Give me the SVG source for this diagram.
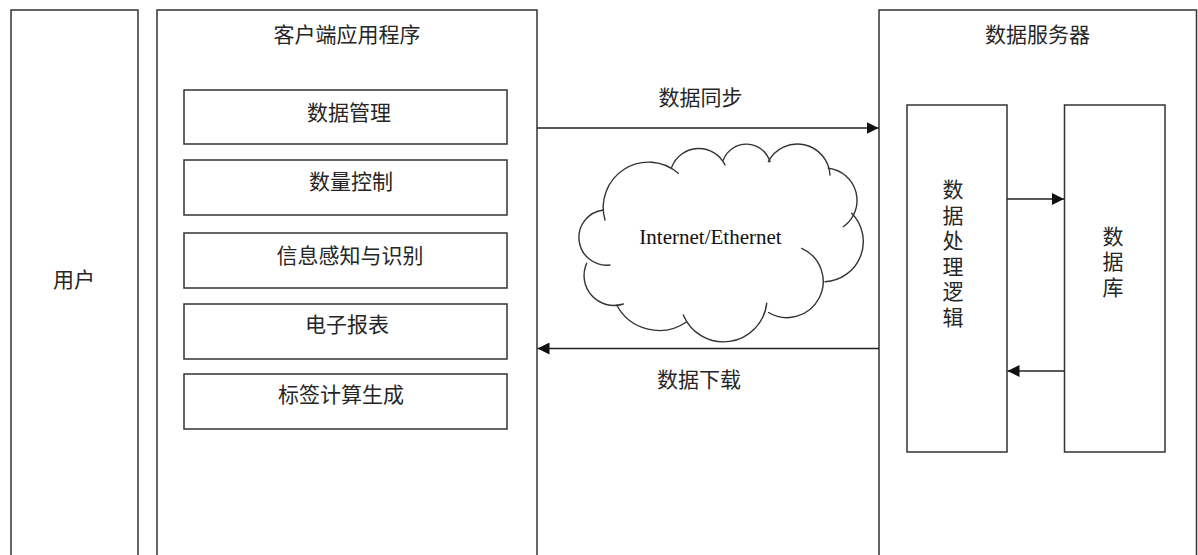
<svg xmlns="http://www.w3.org/2000/svg" width="1198" height="555" viewBox="0 0 1198 555">
  <style>
    .box { fill: #ffffff; stroke: #333333; stroke-width: 1.5; }
    .txt { font-family: "Noto Sans CJK SC", "Liberation Sans", sans-serif; font-size: 21px; fill: #262626; text-anchor: middle; }
    .vt { font-family: "Noto Sans CJK SC", "Liberation Sans", sans-serif; font-size: 21px; fill: #262626; writing-mode: vertical-rl; text-orientation: upright; text-anchor: start; }
    .en { font-family: "Liberation Serif", "Times New Roman", serif; font-size: 21px; fill: #111111; text-anchor: middle; }
    .conn { stroke: #222222; stroke-width: 1.6; fill: none; }
    .cloud { stroke: #333333; stroke-width: 1.4; fill: none; stroke-linecap: round; }
  </style>
  <defs>
    <marker id="arrow" viewBox="0 0 12 12" markerWidth="12" markerHeight="12" refX="12" refY="6" markerUnits="userSpaceOnUse" orient="auto">
      <path d="M0,0 L12,6 L0,12 z" fill="#111111"/>
    </marker>
  </defs>
  <rect x="0" y="0" width="1198" height="555" fill="#ffffff"/>

  <g id="user">
    <rect class="box" x="11" y="10" width="127" height="560"/>
    <text class="txt" x="74" y="286.5">用户</text>
  </g>

  <g id="client">
    <rect class="box" x="157" y="10" width="380" height="560"/>
    <text class="txt" x="347" y="42">客户端应用程序</text>
  </g>
  <g id="data-management">
    <rect class="box" x="184" y="90" width="323" height="54"/>
    <text class="txt" x="349" y="119.5">数据管理</text>
  </g>
  <g id="quantity-control">
    <rect class="box" x="184" y="160" width="323" height="55"/>
    <text class="txt" x="351" y="188.5">数量控制</text>
  </g>
  <g id="sensing">
    <rect class="box" x="184" y="233" width="323" height="55"/>
    <text class="txt" x="350" y="263">信息感知与识别</text>
  </g>
  <g id="report">
    <rect class="box" x="184" y="304" width="323" height="55"/>
    <text class="txt" x="347" y="332">电子报表</text>
  </g>
  <g id="label-gen">
    <rect class="box" x="184" y="374" width="323" height="55"/>
    <text class="txt" x="341" y="402">标签计算生成</text>
  </g>

  <g id="server">
    <rect class="box" x="879" y="10" width="317.5" height="560"/>
    <text class="txt" x="1037.5" y="41.5">数据服务器</text>
  </g>
  <g id="processing">
    <rect class="box" x="907" y="105" width="100" height="347"/>
    <text class="vt" x="953" y="178.5" letter-spacing="4.6">数据处理逻辑</text>
  </g>
  <g id="database">
    <rect class="box" x="1064.5" y="105" width="100.5" height="347"/>
    <text class="vt" x="1113" y="225.5" letter-spacing="4.5">数据库</text>
  </g>

  <g id="network">
    <path class="cloud" d="M605,220 A45.3,45.3 0 0 1 678.3,173.3"/>
    <path class="cloud" d="M671.7,167.3 A29,29 0 0 1 725,165"/>
    <path class="cloud" d="M723.3,160 A24.7,24.7 0 0 1 770,161.7"/>
    <path class="cloud" d="M768.3,161.7 A32.7,32.7 0 0 1 830,175"/>
    <path class="cloud" d="M828.3,168.3 A32.2,32.2 0 0 1 843.3,226.7"/>
    <path class="cloud" d="M851.7,213.3 A40.2,40.2 0 0 1 825,281.7"/>
    <path class="cloud" d="M801.7,248.3 A36.2,36.2 0 1 1 768.5,312.5"/>
    <path class="cloud" d="M766.7,303.3 A43.5,43.5 0 0 1 683.3,315"/>
    <path class="cloud" d="M686.7,321.7 A48,48 0 0 1 616.7,305"/>
    <path class="cloud" d="M623.3,304 A29.9,29.9 0 0 1 586.7,263.3"/>
    <path class="cloud" d="M610,265 A27.7,27.7 0 1 1 603.3,210"/>
    <text class="en" x="710.5" y="244">Internet/Ethernet</text>
  </g>

  <g id="connectors">
    <line class="conn" x1="537" y1="128" x2="878.5" y2="128" marker-end="url(#arrow)"/>
    <text class="txt" x="700.5" y="104.5">数据同步</text>
    <line class="conn" x1="879" y1="348.5" x2="537.5" y2="348.5" marker-end="url(#arrow)"/>
    <text class="txt" x="699" y="387">数据下载</text>
    <line class="conn" x1="1007" y1="199" x2="1064" y2="199" marker-end="url(#arrow)"/>
    <line class="conn" x1="1064.5" y1="371" x2="1007.5" y2="371" marker-end="url(#arrow)"/>
  </g>
</svg>
